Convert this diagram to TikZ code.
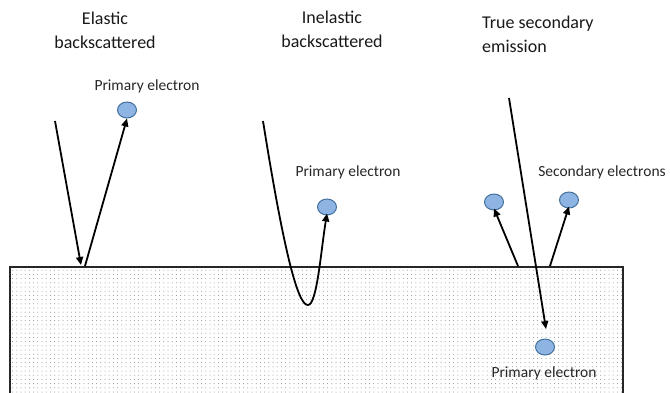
\documentclass[tikz,border=0pt]{standalone}
\usepackage{fontspec}
\setmainfont{Carlito}
\usetikzlibrary{patterns.meta,arrows.meta,shapes.geometric}
\definecolor{efill}{RGB}{142,180,227}
\definecolor{edraw}{RGB}{65,113,156}
\begin{document}
\begin{tikzpicture}[x=1pt,y=-1pt,
  elec/.style={ellipse,draw=edraw,fill=efill,line width=1pt,minimum width=19pt,minimum height=16pt,inner sep=0pt},
  lbl/.style={font=\fontsize{15.5}{18}\selectfont,text=black!85,inner sep=0pt},
  ttl/.style={font=\fontsize{18}{24}\selectfont,text=black!90,inner sep=0pt,align=center},
  ray/.style={line width=1.8pt,-{Triangle[length=8pt,width=7pt]}}]
\useasboundingbox (0,0) rectangle (670,392);
% material block
\node[draw=black!85,line width=1.6pt,fill=white,pattern={Dots[distance=4.2pt,radius=0.5pt]},pattern color=black!45,minimum width=613pt,minimum height=140pt,anchor=north west,inner sep=0pt] (block) at (9,266) {};
% titles
\node[ttl] (t1) at (105,30) {Elastic\\backscattered};
\node[ttl] (t2) at (332,29) {Inelastic\\backscattered};
\node[ttl,align=left,anchor=west] (t3) at (482,34) {True secondary\\emission};
% elastic
\node[lbl] (l1) at (147,86) {Primary electron};
\node[elec] (e1) at (127,110) {};
\coordinate (a1) at (55,121);
\coordinate (h1) at (81,265);
\coordinate (s1) at (85,266);
\draw[ray] (a1) -- (h1);
\draw[ray] (s1) -- (e1.south);
% inelastic
\node[lbl] (l2) at (348,172) {Primary electron};
\node[elec] (e2) at (327,207) {};
\coordinate (a2) at (263,121);
\coordinate (b2) at (308,305);
\draw[ray] (a2) .. controls (282,240) and (297,306) .. (b2) .. controls (317,305) and (321,250) .. ([yshift=2pt]e2.south);
% true secondary
\node[lbl] (l3) at (602,172) {Secondary electrons};
\node[elec] (e3) at (494,202) {};
\node[elec] (e4) at (569,200) {};
\node[elec] (e5) at (545,347) {};
\node[lbl] (l4) at (544,373) {Primary electron};
\coordinate (a3) at (509,98);
\coordinate (h3) at (546,329);
\coordinate (s3) at (518,266);
\coordinate (s4) at (550,266);
\draw[ray] (a3) -- (h3);
\draw[ray] (s3) -- ([yshift=2pt]e3.south);
\draw[ray] (s4) -- ([yshift=2pt]e4.south);
\end{tikzpicture}
\end{document}
